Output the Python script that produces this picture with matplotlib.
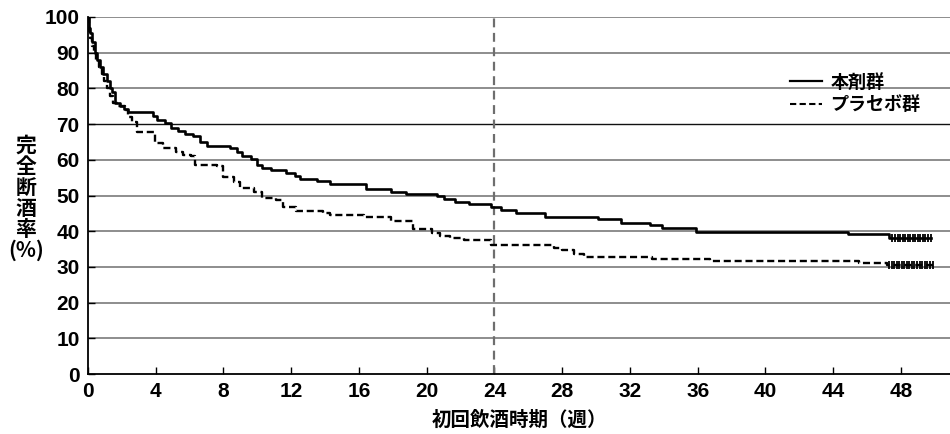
import matplotlib
matplotlib.use("Agg")
import matplotlib.pyplot as plt
from matplotlib.lines import Line2D

plt.rcParams['font.family'] = ['Liberation Sans Narrow', 'Liberation Sans', 'Noto Sans CJK JP', 'DejaVu Sans']

# Kaplan-Meier style step data: weeks to first drink vs. % fully abstinent
drug_weeks = [0, 0.06, 0.12, 0.24, 0.41, 0.53, 0.71, 0.89, 1.12, 1.3, 1.42, 1.6,
              1.89, 2.13, 2.36, 3.84, 4.1, 4.55, 4.9, 5.3, 5.7, 6.2, 6.6, 7.0,
              8.4, 8.8, 9.1, 9.6, 10.0, 10.3, 10.8, 11.7, 12.2, 12.5, 13.5, 14.3,
              16.4, 17.9, 18.8, 20.6, 21.0, 21.7, 22.5, 23.8, 24.4, 25.3, 27.0,
              30.1, 31.5, 33.2, 33.9, 35.9, 44.9, 47.3, 49.8]
drug_pct = [100, 97, 95.5, 93, 90, 88, 86, 84, 82, 80, 79, 76,
            75, 74.2, 73.4, 72.2, 71.2, 70.2, 69, 68, 67.2, 66.6, 65, 64,
            63.2, 62.2, 61, 60.2, 58.5, 57.8, 57.2, 56.4, 55.6, 54.6, 54, 53.2,
            51.8, 51, 50.4, 49.9, 49, 48.3, 47.7, 46.8, 45.8, 45, 44.1,
            43.4, 42.3, 41.7, 41, 39.8, 39.1, 38.2, 38.2]

placebo_weeks = [0, 0.06, 0.12, 0.24, 0.35, 0.5, 0.65, 0.8, 0.95, 1.1, 1.3, 1.5,
                 1.8, 2.2, 2.36, 2.6, 2.9, 3.95, 4.4, 5.2, 5.6, 6.1, 6.3, 7.6,
                 8.0, 8.6, 9.0, 9.8, 10.3, 11.1, 11.5, 12.3, 13.9, 14.3, 16.3,
                 17.9, 19.2, 20.3, 20.8, 21.4, 22.2, 23.8, 27.5, 28.0, 28.7, 29.3,
                 33.3, 36.7, 45.5, 47.2, 49.9]
placebo_pct = [100, 96, 94, 92, 90, 88, 86, 84, 82, 80, 78, 76,
               75.2, 74, 72, 70.6, 67.8, 64.7, 63.3, 62.2, 61.3, 61, 58.5, 58.2,
               55.2, 53.8, 52.1, 51, 49.3, 48.7, 46.8, 45.6, 45.2, 44.5, 44,
               42.9, 40.6, 39.4, 38.6, 38.1, 37.5, 36.1, 35.3, 34.8, 33.6, 32.8,
               32.3, 31.7, 31, 30.4, 30.4]

# censored observations near the end of follow-up
drug_censor = [47.5, 47.65, 47.8, 47.95, 48.1, 48.25, 48.4, 48.55, 48.7, 48.85,
               49.0, 49.15, 49.3, 49.45, 49.6, 49.8]
placebo_censor = [47.3, 47.45, 47.6, 47.75, 47.9, 48.05, 48.2, 48.35, 48.5, 48.65,
                  48.8, 48.95, 49.1, 49.25, 49.4, 49.55, 49.7, 49.9]

x_ticks = [0, 4, 8, 12, 16, 20, 24, 28, 32, 36, 40, 44, 48]
y_ticks = [0, 10, 20, 30, 40, 50, 60, 70, 80, 90, 100]
series_labels = ["本剤群", "プラセボ群"]
cutoff_week = 24

fig = plt.figure(figsize=(9.5, 4.34), dpi=100)
ax = fig.add_axes([88 / 950, 60 / 434, 862 / 950, 357 / 434])

# horizontal grid
for yv in y_ticks[1:]:
    col = '#111111' if yv == 70 else '#7a7a7a'
    ax.axhline(yv, color=col, lw=1.0 if yv == 70 else 1.2, zorder=1)

ax.axvline(cutoff_week, color='#6e6e6e', lw=1.6, ls=(0, (4, 2.5)), zorder=2)

ax.step(drug_weeks, drug_pct, where='post', color='black', lw=1.9, zorder=4)
ax.step(placebo_weeks, placebo_pct, where='post', color='black', lw=1.7,
        ls=(0, (3, 1.6)), zorder=4)

drug_c = [drug_pct[-1]] * len(drug_censor)
plac_c = [placebo_pct[-1]] * len(placebo_censor)
ax.plot(drug_censor, drug_c, ls='none', marker='|', ms=6, mew=1.3, color='black', zorder=5)
ax.plot(placebo_censor, plac_c, ls='none', marker='|', ms=6, mew=1.3, color='black', zorder=5)

ax.set_xlim(0, 50.9)
ax.set_ylim(0, 100)
ax.set_xticks(x_ticks)
ax.set_yticks(y_ticks)
ax.tick_params(axis='both', direction='in', length=5, width=1, labelsize=15, pad=6)
for lbl in ax.get_xticklabels() + ax.get_yticklabels():
    lbl.set_fontweight('bold')
for s in ['top', 'right']:
    ax.spines[s].set_visible(False)
for s in ['left', 'bottom']:
    ax.spines[s].set_linewidth(1.3)
    ax.spines[s].set_color('black')

ax.set_xlabel("初回飲酒時期（週）", fontsize=14, fontweight='bold', labelpad=7,
              family=['Noto Sans CJK JP', 'DejaVu Sans'])
fig.text(26 / 950, 1 - 198 / 434, "完\n全\n断\n酒\n率\n(%)", ha='center', va='center',
         fontsize=15, fontweight='bold', linespacing=1.0,
         family=['Noto Sans CJK JP', 'DejaVu Sans'])

handles = [Line2D([], [], color='black', lw=1.6),
           Line2D([], [], color='black', lw=1.5, ls=(0, (3, 1.6)))]
leg = ax.legend(handles, series_labels, loc='upper left', bbox_to_anchor=(0.806, 0.865),
                frameon=False, fontsize=13, handlelength=1.75, handletextpad=0.5,
                labelspacing=0.2, borderaxespad=0,
                prop={'family': ['Noto Sans CJK JP', 'DejaVu Sans'], 'size': 13, 'weight': 'bold'})

fig.savefig("out.png", dpi=100)
